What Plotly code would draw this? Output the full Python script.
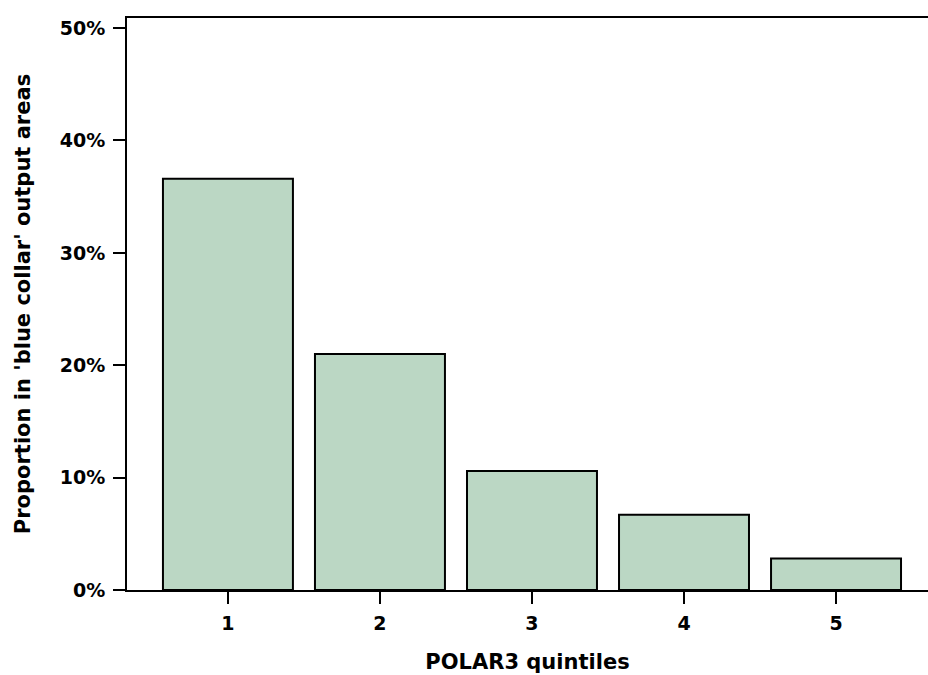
import plotly.graph_objects as go

categories = [1, 2, 3, 4, 5]
proportions = [0.366, 0.210, 0.106, 0.067, 0.028]
y_ticks = [0, 0.1, 0.2, 0.3, 0.4, 0.5]
y_tick_labels = ["0%", "10%", "20%", "30%", "40%", "50%"]

FONT = "DejaVu Sans"

fig = go.Figure()
fig.add_trace(go.Bar(
    x=categories,
    y=proportions,
    width=0.855,
    marker=dict(color="rgb(187,215,196)", line=dict(color="black", width=2)),
))

fig.update_layout(
    width=928,
    height=675,
    margin=dict(l=127, r=0, t=18, b=85),
    paper_bgcolor="white",
    plot_bgcolor="white",
    showlegend=False,
    font=dict(family=FONT, color="black"),
    xaxis=dict(
        range=[0.336, 5.605],
        tickmode="array",
        tickvals=categories,
        ticktext=[str(c) for c in categories],
        ticks="outside",
        ticklen=12,
        tickwidth=2,
        tickcolor="black",
        ticklabelstandoff=3,
        showline=True,
        linecolor="black",
        linewidth=2,
        mirror=True,
        showgrid=False,
        zeroline=False,
        tickfont=dict(family=FONT, size=19, color="black", weight="bold"),
        title=dict(text="POLAR3 quintiles", standoff=22,
                   font=dict(family=FONT, size=21, color="black", weight="bold")),
    ),
    yaxis=dict(
        range=[0, 0.509],
        tickmode="array",
        tickvals=y_ticks,
        ticktext=y_tick_labels,
        ticks="outside",
        ticklen=12,
        tickwidth=2,
        tickcolor="black",
        ticklabelstandoff=4,
        showline=True,
        linecolor="black",
        linewidth=2,
        showgrid=False,
        zeroline=False,
        tickfont=dict(family=FONT, size=19, color="black", weight="bold"),
        title=dict(text="Proportion in 'blue collar' output areas", standoff=23,
                   font=dict(family=FONT, size=21, color="black", weight="bold")),
    ),
)

fig.write_html("out.html", config={"displayModeBar": False})

# remove the default page margin so the figure sits at the window origin
with open("out.html", "r", encoding="utf-8") as f:
    html = f.read()
html = html.replace("<head>", "<head><style>html,body{margin:0;padding:0;overflow:hidden;}</style>", 1)
with open("out.html", "w", encoding="utf-8") as f:
    f.write(html)
